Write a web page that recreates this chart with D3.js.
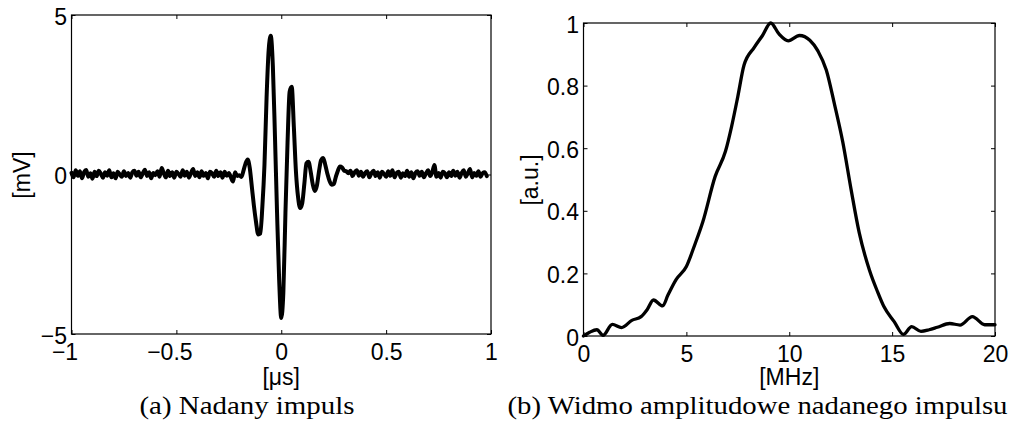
<!DOCTYPE html>
<html>
<head>
<meta charset="utf-8">
<script src="https://cdn.jsdelivr.net/npm/d3@7"></script>
<style>
  body { margin: 0; background: #fff; }
  svg { display: block; }
</style>
</head>
<body>
<svg id="chart" width="1011" height="432"></svg>
<script>
// pulse, sampled every 0.01 us from -1.00 to 0.98
const pulseStart = -1, pulseStep = 0.01;
const pulseMv = [
  0.05, -0.09, 0.13, -0.04, 0.10, -0.12, 0.07, 0.14, -0.07, 0.04,
  -0.13, 0.09, -0.05, 0.12, 0.02, -0.10, 0.07, -0.04, 0.13, -0.09,
  0.04, -0.12, 0.09, 0.00, -0.07, 0.10, -0.05, 0.05, -0.10, 0.07,
  0.12, -0.04, 0.09, -0.09, 0.04, 0.15, -0.05, 0.07, -0.12, 0.05,
  -0.02, 0.10, -0.07, 0.20, 0.04, -0.09, 0.12, -0.05, 0.07, -0.10,
  0.09, 0.02, -0.07, 0.13, -0.04, 0.09, -0.10, 0.05, 0.17, -0.05,
  0.07, -0.09, 0.10, -0.04, 0.05, -0.12, 0.09, 0.04, -0.07, 0.12,
  -0.05, 0.07, -0.10, 0.09, -0.04, 0.05, -0.09, -0.22, 0.07, -0.05,
  // -0.20 .. 0.30
  -0.02, -0.08, 0.12, 0.35, 0.47, 0.2, -0.4, -1.0, -1.5, -1.88,
  -1.85, -1.0, 0.3, 2.4, 3.9, 4.35, 3.4, 1.2, -1.2, -3.3,
  -4.5, -3.7, -1.2, 1.0, 2.6, 2.75, 1.5, 0.1, -0.7, -1.05,
  -0.9, -0.3, 0.35, 0.4, 0.1, -0.3, -0.52, -0.35, 0.1, 0.45,
  0.52, 0.3, 0.02, -0.2, -0.32, -0.3, -0.08, 0.12, 0.25, 0.22,
  0.12,
  // 0.31 .. 0.98
  0.10, 0.04, 0.12, -0.05, 0.07, 0.13, -0.04, 0.09, -0.07, 0.05,
  0.10, -0.09, 0.04, 0.12, -0.05, 0.07, -0.10, 0.09, 0.02, -0.07,
  0.10, -0.04, 0.13, -0.09, 0.05, 0.09, -0.10, 0.04, -0.05, 0.12,
  -0.07, 0.07, -0.12, 0.05, 0.10, -0.04, 0.09, -0.09, 0.04, 0.13,
  -0.05, 0.07, 0.30, -0.07, 0.05, -0.10, 0.09, 0.04, -0.09, 0.07,
  -0.05, 0.12, -0.04, 0.09, -0.10, 0.05, 0.13, -0.07, 0.04, 0.17,
  -0.09, 0.05, -0.04, 0.10, -0.07, 0.04, 0.07, -0.05
];

// amplitude spectrum
const specMHz = [0, 0.3, 0.65, 0.95, 1.4, 1.85, 2.35, 2.8, 3.1, 3.4, 3.85, 4.1, 4.5, 5.0, 5.4, 5.8,
  6.4, 6.9, 7.2, 7.5, 7.8, 8.3, 8.7, 9.1, 9.5, 9.95, 10.5, 11.0, 11.4, 11.8, 12.2, 12.6, 13.0,
  13.4, 13.9, 14.3, 14.6, 15.1, 15.55, 15.95, 16.4, 16.8, 17.2, 17.8, 18.3, 18.9, 19.5, 20];
const specAmp = [0, 0.012, 0.02, 0.002, 0.037, 0.027, 0.05, 0.062, 0.085, 0.115, 0.096, 0.13, 0.18, 0.222, 0.29, 0.365,
  0.51, 0.59, 0.67, 0.765, 0.865, 0.922, 0.96, 1.0, 0.965, 0.943, 0.96, 0.945, 0.91, 0.85, 0.74, 0.62, 0.47,
  0.33, 0.21, 0.14, 0.094, 0.046, 0.005, 0.03, 0.015, 0.02, 0.028, 0.04, 0.035, 0.062, 0.036, 0.036];

const pulseXTicks = [-1, -0.5, 0, 0.5, 1];
const pulseYTicks = [-5, 0, 5];
const specXTicks = [0, 5, 10, 15, 20];
const specYTicks = [0, 0.2, 0.4, 0.6, 0.8, 1];

const captions = ["(a) Nadany impuls", "(b) Widmo amplitudowe nadanego impulsu"];

const svg = d3.select("#chart");
svg.append("rect").attr("width", 1011).attr("height", 432).attr("fill", "#fff");

const sans = "'Liberation Sans', Arial, Helvetica, sans-serif";
const fs = 23;
const fmt = d => (d < 0 ? "\u2212" + Math.abs(d) : String(d));

function panel(o) {
  const x = d3.scaleLinear().domain(o.xDomain).range([o.left, o.right]);
  const y = d3.scaleLinear().domain(o.yDomain).range([o.bottom, o.top]);
  const g = svg.append("g");

  // data line
  g.append("path")
    .datum(o.data)
    .attr("fill", "none")
    .attr("stroke", "#000")
    .attr("stroke-width", o.lw)
    .attr("stroke-linejoin", "round")
    .attr("stroke-linecap", "round")
    .attr("d", d3.line().x(d => x(d[0])).y(d => y(d[1])).curve(d3.curveMonotoneX));

  // box
  g.append("rect")
    .attr("x", o.left).attr("y", o.top)
    .attr("width", o.right - o.left).attr("height", o.bottom - o.top)
    .attr("fill", "none").attr("stroke", "#000").attr("stroke-width", 1.2);

  const ax = (axis, tr) => {
    const a = g.append("g").attr("transform", tr).call(axis);
    a.select(".domain").remove();
    a.selectAll("line").attr("stroke", "#000");
    return a;
  };

  const xb = ax(d3.axisBottom(x).tickValues(o.xTicks).tickSize(-4).tickFormat(fmt), `translate(0,${o.bottom})`);
  xb.selectAll("text")
    .attr("y", 26).attr("dy", 0)
    .attr("dx", d => (d < 0 ? -7 : 0))
    .style("font-family", sans).style("font-size", fs + "px").attr("fill", "#000");
  ax(d3.axisTop(x).tickValues(o.xTicks).tickSize(-4).tickFormat(""), `translate(0,${o.top})`);

  const yl = ax(d3.axisLeft(y).tickValues(o.yTicks).tickSize(-4).tickFormat(fmt), `translate(${o.left},0)`);
  yl.selectAll("text")
    .attr("x", -4.5).attr("dy", 0).attr("y", 9)
    .style("font-family", sans).style("font-size", fs + "px").attr("fill", "#000");
  ax(d3.axisRight(y).tickValues(o.yTicks).tickSize(-4).tickFormat(""), `translate(${o.right},0)`);

  g.append("text")
    .attr("x", (o.left + o.right) / 2).attr("y", 385)
    .attr("text-anchor", "middle")
    .style("font-family", sans).style("font-size", "23px")
    .text(o.xLabel);

  g.append("text")
    .attr("transform", `translate(${o.yLabelX},${o.yLabelY}) rotate(-90)`)
    .attr("text-anchor", "middle")
    .style("font-family", sans).style("font-size", "23px")
    .text(o.yLabel);

  g.append("text")
    .attr("x", o.capX).attr("y", 414)
    .attr("text-anchor", "middle")
    .attr("textLength", o.capW).attr("lengthAdjust", "spacingAndGlyphs")
    .style("font-family", "'Liberation Serif', 'Times New Roman', serif")
    .style("font-size", "25px")
    .text(o.caption);
}

panel({
  left: 71.5, right: 491, top: 15, bottom: 334,
  xDomain: [-1, 1], yDomain: [-5, 5],
  xTicks: pulseXTicks, yTicks: pulseYTicks,
  data: pulseMv.map((v, i) => [pulseStart + i * pulseStep, v]),
  lw: 4,
  xLabel: "[\u03bcs]", yLabel: "[mV]", yLabelX: 30, yLabelY: 175,
  caption: captions[0], capX: 247, capW: 215
});

panel({
  left: 583.5, right: 995, top: 23, bottom: 336,
  xDomain: [0, 20], yDomain: [0, 1],
  xTicks: specXTicks, yTicks: specYTicks,
  data: specMHz.map((f, i) => [f, specAmp[i]]),
  lw: 3.3,
  xLabel: "[MHz]", yLabel: "[a.u.]", yLabelX: 538, yLabelY: 180,
  caption: captions[1], capX: 757.5, capW: 500
});
</script>
</body>
</html>
